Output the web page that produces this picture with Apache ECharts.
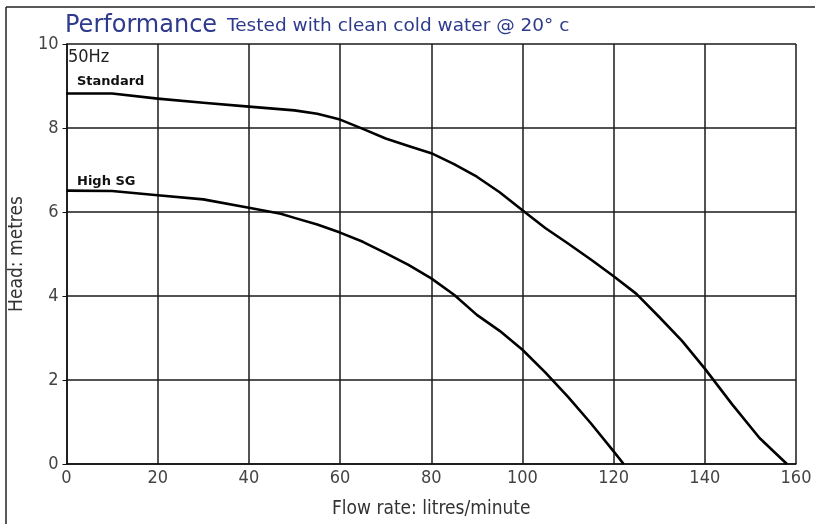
<!DOCTYPE html>
<html>
<head>
<meta charset="utf-8">
<script src="https://cdn.jsdelivr.net/npm/echarts@6/dist/echarts.min.js"></script>
<style>html,body{margin:0;padding:0;background:#fff}#c{width:815px;height:524px}</style>
</head>
<body>
<div id="c"></div>
<script>
// Flow rate (litres/minute) vs head (metres)
var standardFlow = [0, 10, 20, 30, 40, 50, 55, 60, 65, 70, 75, 80, 85, 90, 95, 100, 105, 110, 115, 120, 125, 130, 135, 140, 146, 152, 158];
var standardHead = [8.82, 8.82, 8.7, 8.6, 8.51, 8.42, 8.34, 8.2, 7.98, 7.75, 7.57, 7.4, 7.14, 6.84, 6.47, 6.04, 5.62, 5.25, 4.87, 4.47, 4.05, 3.5, 2.93, 2.27, 1.42, 0.62, 0];
var highSGFlow = [0, 10, 20, 30, 40, 47, 50, 55, 60, 65, 70, 75, 80, 85, 90, 95, 100, 105, 110, 115, 120, 122.2];
var highSGHead = [6.51, 6.5, 6.4, 6.3, 6.1, 5.96, 5.86, 5.7, 5.51, 5.29, 5.02, 4.74, 4.42, 4.03, 3.55, 3.17, 2.72, 2.18, 1.6, 0.97, 0.3, 0];
var xTicks = [0, 20, 40, 60, 80, 100, 120, 140, 160];
var yTicks = [0, 2, 4, 6, 8, 10];

function pairs(xs, ys) { return xs.map(function (x, i) { return [x, ys[i]]; }); }

var narrow = "'Liberation Sans Narrow', 'DejaVu Sans Condensed', 'Liberation Sans', sans-serif";
var chart = echarts.init(document.getElementById('c'), null, { renderer: 'canvas' });
chart.setOption({
  animation: false,
  backgroundColor: '#fff',
  grid: { left: 62, right: 19, top: 44, bottom: 59 },
  title: {
    left: 60, top: 9,
    text: '{a|Performance}{b|Tested with clean cold water @ 20° c}',
    textStyle: {
      fontWeight: 'normal',
      rich: {
        a: { fontFamily: "'DejaVu Sans', sans-serif", fontSize: 24, fontWeight: 'normal', color: '#2e3a8c', padding: [0, 10, 0, 0] },
        b: { fontFamily: "'DejaVu Sans', sans-serif", fontSize: 18.5, fontWeight: 'normal', color: '#2e3a8c' }
      }
    }
  },
  xAxis: {
    type: 'value', min: 0, max: 160, interval: 20,
    name: 'Flow rate: litres/minute', nameLocation: 'middle', nameGap: 36,
    nameTextStyle: { fontFamily: narrow, fontSize: 19, color: '#333' },
    axisLine: { show: true, lineStyle: { color: '#111', width: 1.5 } },
    axisTick: { show: false },
    splitLine: { show: true, lineStyle: { color: '#1a1a1a', width: 1.5 } },
    axisLabel: { fontFamily: narrow, fontSize: 18, color: '#444', margin: 5,
      formatter: function (v) { return xTicks.indexOf(v) >= 0 ? String(v) : ''; } }
  },
  yAxis: {
    type: 'value', min: 0, max: 10, interval: 2,
    name: 'Head: metres', nameLocation: 'middle', nameGap: 36,
    nameTextStyle: { fontFamily: narrow, fontSize: 19, color: '#333' },
    axisLine: { show: true, lineStyle: { color: '#111', width: 1.5 } },
    axisTick: { show: true, length: 4, lineStyle: { color: '#111' } },
    splitLine: { show: true, lineStyle: { color: '#1a1a1a', width: 1.5 } },
    axisLabel: { fontFamily: narrow, fontSize: 18, color: '#444', margin: 8,
      formatter: function (v) { return yTicks.indexOf(v) >= 0 ? String(v) : ''; } }
  },
  series: [
    { name: 'Standard', type: 'line', smooth: false, showSymbol: false, data: pairs(standardFlow, standardHead),
      lineStyle: { color: '#000', width: 2.6, join: 'round' } },
    { name: 'High SG', type: 'line', smooth: false, showSymbol: false, data: pairs(highSGFlow, highSGHead),
      lineStyle: { color: '#000', width: 2.6, join: 'round' } }
  ],
  graphic: [
    { type: 'line', shape: { x1: 6, y1: 7, x2: 815, y2: 7 }, style: { stroke: '#222', lineWidth: 1.5 } },
    { type: 'line', shape: { x1: 6, y1: 7, x2: 6, y2: 524 }, style: { stroke: '#222', lineWidth: 1.5 } },
    { type: 'text', left: 68, top: 48, style: { text: '50Hz', fontFamily: narrow, fontSize: 18, fill: '#222' } },
    { type: 'text', left: 77, top: 75, style: { text: 'Standard', fontFamily: "'DejaVu Sans', sans-serif", fontWeight: 'bold', fontSize: 13, fill: '#111' } },
    { type: 'text', left: 77, top: 175, style: { text: 'High SG', fontFamily: "'DejaVu Sans', sans-serif", fontWeight: 'bold', fontSize: 13, fill: '#111' } }
  ]
});
</script>
</body>
</html>
